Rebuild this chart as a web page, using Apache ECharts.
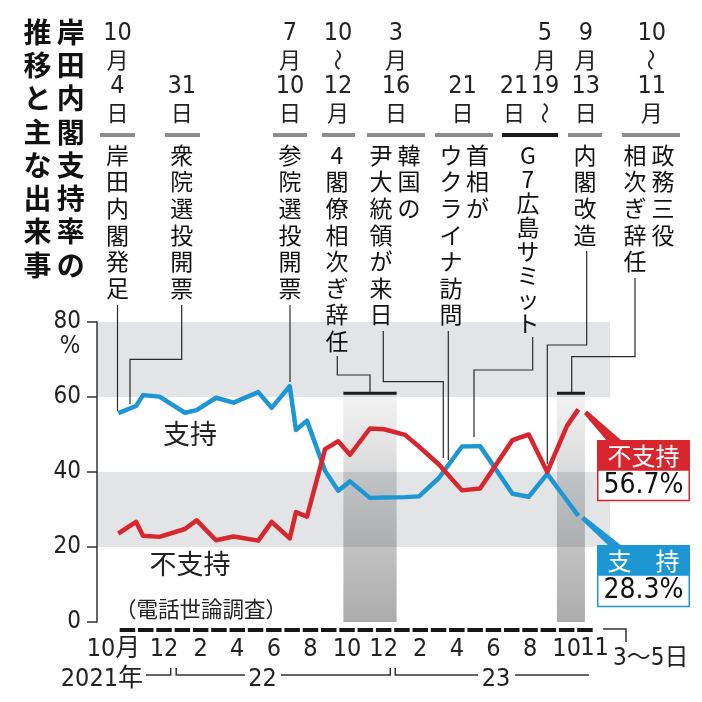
<!DOCTYPE html>
<html><head><meta charset="utf-8">
<script src="https://cdn.jsdelivr.net/npm/echarts@6/dist/echarts.min.js"></script>
<style>html,body{margin:0;padding:0;background:#fff}#c{width:702px;height:702px}</style>
</head><body><div id="c"></div>
<script>
// ---- data ----
// poll position in months since 1 Oct 2021
const pollMonth = [0.0, 0.97, 1.35, 2.25, 3.64, 4.28, 5.34, 6.30, 7.65, 8.38, 9.37, 9.71, 10.31, 11.30, 12.02, 12.66, 13.75, 14.52, 15.67, 16.43, 17.52, 18.78, 19.77, 21.54, 22.43, 23.44, 24.52, 25.14];
const support = [55.7, 57.6, 60.5, 60.1, 55.8, 56.5, 59.8, 58.5, 61.3, 57.1, 62.9, 51.2, 53.7, 40.3, 35.0, 37.5, 33.1, 33.2, 33.3, 33.5, 38.4, 46.8, 46.9, 34.2, 33.4, 39.5, 32.4, 28.3];
const disapproval = [23.6, 26.7, 23.0, 22.7, 24.8, 27.1, 21.8, 22.8, 21.7, 26.7, 22.3, 29.3, 28.1, 46.1, 48.2, 44.6, 51.6, 51.4, 49.9, 46.8, 42.0, 35.1, 35.6, 48.5, 50.0, 40.0, 52.3, 56.7];
const monthLabels = ['10月','11','12','1','2','3','4','5','6','7','8','9','10','11','12','1','2','3','4','5','6','7','8','9','10','11'];
const yearLabels = ['2021年','22','23'];
const yearEnds = [3, 15];
const shadedPeriods = [[12.3, 15.21], [23.97, 25.5]];
const titleCols = ['岸田内閣支持率の', '推移と主な出来事'];
const eventDates = [
  [['10','月','4','日']],
  [['31','日']],
  [['7','月','10','日']],
  [['10','〜','12','月']],
  [['3','月','16','日']],
  [['21','日']],
  [['5','月','19','〜'],['21','日']],
  [['9','月','13','日']],
  [['10','〜','11','月']]
];
const eventTexts = [
  ['岸田内閣発足'],
  ['衆院選投開票'],
  ['参院選投開票'],
  ['4閣僚相次ぎ辞任'],
  ['韓国の','尹大統領が来日'],
  ['首相が','ウクライナ訪問'],
  ['G7広島サミット'],
  ['内閣改造'],
  ['政務三役','相次ぎ辞任']
];

// ---- layout ----
const FONT_NUM = "'Liberation Sans Narrow','DejaVu Sans Condensed','Noto Sans CJK JP',sans-serif";
const FONT_JP = "'Noto Sans CJK JP','Noto Sans CJK SC',sans-serif";
const BLUE = '#1d97d4', RED = '#d8262f';
const eventLayout = [
  {dateX:[117.5], bar:[100,135], textX:[117.5]},
  {dateX:[181.7], bar:[165,200], textX:[181.7]},
  {dateX:[290], bar:[273,307], textX:[290]},
  {dateX:[338], bar:[322,355], textX:[337]},
  {dateX:[396], bar:[367,425], textX:[409,381]},
  {dateX:[462.5], bar:[435,493], textX:[477.5,451]},
  {dateX:[545,514], bar:[502,558], textX:[528], barColor:'#1a1a1a', lh:24},
  {dateX:[585.8], bar:[568,602], textX:[585]},
  {dateX:[651.7], bar:[622,680], textX:[663,635]}
];
const leaderPaths = [
  [[117.5,305],[117.5,411]],
  [[181.7,305],[181.7,359.3],[130,359.3],[130,404]],
  [[290,305],[290,382]],
  [[337.3,356],[337.3,375],[370,375],[370,393]],
  [[383.3,331],[383.3,381.7],[443.3,381.7],[443.3,458]],
  [[448.3,331],[448.3,460]],
  [[532.7,337],[532.7,370],[474,370],[474,437]],
  [[586.7,251],[586.7,345],[547.3,345],[547.3,464]],
  [[635,278],[635,356.7],[571.7,356.7],[571.7,393]]
];

const gradient = new echarts.graphic.LinearGradient(0,0,0,1,[
  {offset:0, color:'rgba(0,0,0,0.05)'},{offset:1, color:'rgba(0,0,0,0.33)'}]);

const lastMonthIdx = monthLabels.length - 1;
const option = {
  backgroundColor:'#fff',
  animation:false,
  grid:[{left:97, top:322, width:513, height:300},{left:118.3, top:628, width:475.8, height:4}],
  xAxis:[
    {type:'value', gridIndex:0, min:-1.164, max:26.87, show:false},
    {type:'category', gridIndex:1, data:monthLabels, boundaryGap:true,
     axisLine:{show:false}, axisTick:{show:false}, splitLine:{show:false},
     axisLabel:{interval:(i)=> i%2===0, hideOverlap:false,
       margin:5, fontSize:25, color:'#222', fontFamily:FONT_NUM,
       formatter:(v,i)=> i===0 ? '{a|'+v+'}' : v,
       rich:{a:{fontSize:25,fontFamily:FONT_NUM,color:'#222',padding:[0,28,0,0]}}}}
  ],
  yAxis:[
    {type:'value', gridIndex:0, min:0, max:80, interval:20,
     axisLine:{show:true, onZero:false, lineStyle:{color:'#333', width:1.5}},
     axisTick:{show:true, length:10, lineStyle:{color:'#333', width:1.5}},
     axisLabel:{margin:16, fontSize:24, color:'#222', fontFamily:FONT_NUM},
     splitLine:{show:false},
     splitArea:{show:true, areaStyle:{color:['rgba(255,255,255,0)','#e3e4e6']}}},
    {type:'value', gridIndex:1, min:0, max:1, show:false}
  ],
  series:[
    {type:'line', name:'支持', xAxisIndex:0, yAxisIndex:0, z:3,
     data: pollMonth.map((m,i)=>[m, support[i]]), symbol:'none',
     lineStyle:{color:BLUE, width:4.5, join:'round'}, itemStyle:{color:BLUE},
     markArea:{silent:true, itemStyle:{color:gradient},
       data: shadedPeriods.map(p=>[{xAxis:p[0], yAxis:0},{xAxis:p[1], yAxis:60.5}])}},
    {type:'line', name:'不支持', xAxisIndex:0, yAxisIndex:0, z:4,
     data: pollMonth.map((m,i)=>[m, disapproval[i]]), symbol:'none',
     lineStyle:{color:RED, width:4.5, join:'round'}, itemStyle:{color:RED}},
    {type:'bar', xAxisIndex:1, yAxisIndex:1, data: monthLabels.map(()=>1), barWidth:15.5,
     itemStyle:{color:'#161616'}, silent:true}
  ]
};

const chart = echarts.init(document.getElementById('c'));
chart.setOption(option);
const px = (m, v) => chart.convertToPixel({gridIndex:0}, [m, v]);

const G = [];
function txt(x, y, t, fs, ff, opt) {
  opt = opt || {};
  const el = {type:'text', x, y, z:10, silent:true, style:{text:t, fontSize:fs, fontFamily:ff,
    fontWeight:opt.weight||'normal', fill:opt.fill||'#1a1a1a', align:opt.align||'center', verticalAlign:opt.va||'middle'}};
  if (t === '〜') el.rotation = -Math.PI/2;
  G.push(el);
}
function line(points, color, w) {
  G.push({type:'polyline', z:10, silent:true, shape:{points}, style:{stroke:color||'#2a2a2a', lineWidth:w||1.2, fill:null}});
}
function rect(x, y, w, h, style) { G.push({type:'rect', z:10, silent:true, shape:{x,y,width:w,height:h}, style}); }

// title
titleCols.forEach((col, c) => {
  const x = c === 0 ? 70.8 : 37.5;
  col.split('').forEach((ch, i) => txt(x, 32 + i*33.3, ch, 28, FONT_JP, {weight:'bold', fill:'#111'}));
});

// events
eventDates.forEach((cols, e) => {
  const L = eventLayout[e];
  cols.forEach((rows, c) => {
    const n = rows.length;
    rows.forEach((r, i) => {
      const cy = 113 - (n-1-i)*26.6;
      const isNum = /^[0-9]+$/.test(r);
      txt(L.dateX[c], cy, r, isNum ? 25 : 22, isNum ? FONT_NUM : FONT_JP, {fill:'#222'});
    });
  });
  rect(L.bar[0], 133, L.bar[1]-L.bar[0], 4, {fill: L.barColor || '#8c8c8c'});
  eventTexts[e].forEach((s, c) => {
    const lh = L.lh || 26.6;
    s.split('').forEach((ch, i) => txt(L.textX[c], 155 + i*lh, ch, 23, FONT_JP, {fill:'#111'}));
  });
});
leaderPaths.forEach(p => line(p));

// ⊥ marks on shaded periods
shadedPeriods.forEach(p => {
  const a = px(p[0], 61), b = px(p[1], 61);
  rect(a[0], a[1]-1.5, b[0]-a[0], 3, {fill:'#1a1a1a'});
});

// last month label (placed right of the crowded "10")
txt(594.5, 648, monthLabels[lastMonthIdx], 25, FONT_NUM, {fill:'#222'});

// in-plot labels
txt(190, 434, '支持', 27, FONT_JP, {fill:'#222'});
txt(190, 564, '不支持', 27, FONT_JP, {fill:'#222'});
txt(201, 609, '（電話世論調査）', 21.5, FONT_JP, {fill:'#222'});
txt(70, 347, '%', 24, FONT_NUM, {fill:'#222'});

// year brackets
const b1 = px(yearEnds[0], 0)[0], b2 = px(yearEnds[1], 0)[0];
txt(143, 679, yearLabels[0], 25, FONT_NUM, {align:'right', fill:'#222'});
line([[146,675],[b1-2.5,675],[b1-2.5,668]], '#333', 1.5);
line([[b1+3,668],[b1+3,675],[245,675]], '#333', 1.5);
txt(262.5, 679, yearLabels[1], 25, FONT_NUM, {fill:'#222'});
line([[281,675],[b2-2.5,675],[b2-2.5,668]], '#333', 1.5);
line([[b2+2.5,668],[b2+2.5,675],[478,675]], '#333', 1.5);
txt(496, 679, yearLabels[2], 25, FONT_NUM, {fill:'#222'});
line([[515,675],[589,675]], '#333', 1.5);
// 3~5日 bracket
line([[603,629],[626,629],[626,642]], '#333', 1.5);
txt(613, 659, '3〜5日', 24, FONT_NUM, {align:'left', fill:'#222'});

// latest value callouts
const last = pollMonth.length - 1;
G.push({type:'polygon', z:9, silent:true, shape:{points:[[584,414],[587,410.5],[622,441],[607,441]]}, style:{fill:RED}});
G.push({type:'polygon', z:9, silent:true, shape:{points:[[581,519.5],[584,516],[622,546],[609,546]]}, style:{fill:BLUE}});
rect(597, 440, 93, 30, {fill:RED});
rect(597.75, 470, 91.5, 30.5, {fill:'#fff', stroke:RED, lineWidth:1.5});
txt(643.5, 455.5, '不支持', 24, FONT_JP, {fill:'#fff'});
txt(643.5, 486, disapproval[last].toFixed(1)+'%', 28, FONT_NUM, {fill:'#111'});
rect(597, 545, 93, 30, {fill:BLUE});
rect(597.75, 575, 91.5, 31.5, {fill:'#fff', stroke:BLUE, lineWidth:1.5});
txt(643.5, 560.5, '支　持', 24, FONT_JP, {fill:'#fff'});
txt(643.5, 591, support[last].toFixed(1)+'%', 28, FONT_NUM, {fill:'#111'});

chart.setOption({graphic: G});
</script>
</body></html>
